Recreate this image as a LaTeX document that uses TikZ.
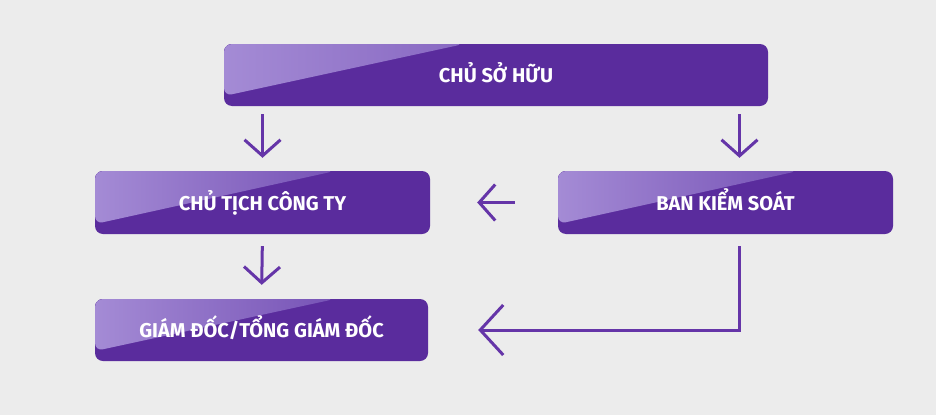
\documentclass[tikz,border=0pt]{standalone}
\usepackage{fontspec}
\setmainfont{Fira Sans}
\usetikzlibrary{arrows.meta,calc}
\definecolor{bg}{HTML}{ECECEC}
\definecolor{boxc}{HTML}{5A2C9D}
\definecolor{hilite}{HTML}{A48BD5}
\definecolor{hilite2}{HTML}{653DAA}
\definecolor{arrc}{HTML}{6535A8}
\begin{document}
\begin{tikzpicture}[x=1pt,y=-1pt,
  box/.style={rounded corners=8pt, fill=boxc, text=white, inner sep=0pt,
    path picture={
      \fill[left color=hilite, right color=hilite2]
        (path picture bounding box.north west)
        -- ($(path picture bounding box.south west)+(0,-10)$)
        -- ($(path picture bounding box.north west)+(240,0)$) -- cycle;
      \node[anchor=base, inner sep=0pt, text=white, font=\fontsize{20}{22}\selectfont\bfseries] at ($(path picture bounding box.center)+(0,7.5)$) {\boxlabel};
    }},
  arr/.style={draw=arrc, line width=3pt, -{Straight Barb[length=16pt,width=36pt]}},
  bigarr/.style={draw=arrc, line width=3pt, -{Straight Barb[length=23pt,width=50pt]}}
]
\fill[bg] (0,0) rectangle (936,415);
\useasboundingbox (0,0) rectangle (936,415);
\newcommand\boxlabel{}
\renewcommand\boxlabel{CHỦ SỞ HỮU}
\node[box, minimum width=544pt, minimum height=62pt] (csh) at (496,75) {};
\renewcommand\boxlabel{CHỦ TỊCH CÔNG TY}
\node[box, minimum width=335pt, minimum height=63pt] (ct) at (262.5,202.5) {};
\renewcommand\boxlabel{BAN KIỂM SOÁT}
\node[box, minimum width=335pt, minimum height=63pt] (bks) at (725.5,202.5) {};
\renewcommand\boxlabel{GIÁM ĐỐC/TỔNG GIÁM ĐỐC}
\node[box, minimum width=333pt, minimum height=62pt] (gd) at (261.5,330) {};
\coordinate (bkstop) at ($(bks.north)+(14,0)$);
\coordinate (bksbot) at ($(bks.south)+(14,0)$);
\coordinate (cshr) at (bkstop |- csh.south);
\coordinate (cshl) at (ct.north |- csh.south);
\draw[arr, shorten <=8pt, shorten >=13pt] (cshl) -- (ct.north);
\draw[arr, shorten <=8pt, shorten >=13pt] (cshr) -- (bkstop);
\draw[arr, shorten <=43pt, shorten >=47pt] (bks.west) -- (ct.east);
\draw[arr, shorten <=12pt, shorten >=14pt] (ct.south) -- (gd.north);
\draw[bigarr, shorten <=12pt, shorten >=50pt] (bksbot) |- (gd.east);
\end{tikzpicture}
\end{document}
